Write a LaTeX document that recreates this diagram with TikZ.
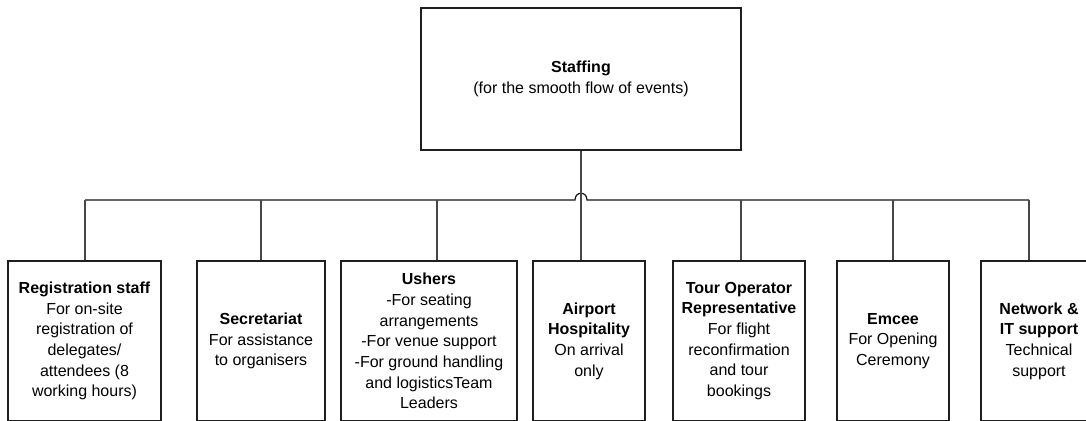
\documentclass[tikz,border=0pt]{standalone}
\usepackage{fontspec}
\setmainfont{Liberation Sans}
\begin{document}
\begin{tikzpicture}[x=1pt,y=-1pt,
  box/.style={draw=black!88, line width=1.5pt, align=center, inner sep=0pt,
    font=\fontsize{16}{20.7}\selectfont, text=black},
  low/.style={box, minimum height=160pt},
  bus/.style={draw=black!92, line width=1.2pt},
  link/.style={draw=black!72, line width=1.1pt}]
\useasboundingbox (0,0) rectangle (1086,420);
\begin{scope}
\clip (0,0) rectangle (1086,420);
\node[box, minimum width=320pt, minimum height=142pt, font=\fontsize{16}{21}\selectfont] (top) at (581,79)
  {\textbf{Staffing}\\(for the smooth flow of events)};
\node[low, minimum width=153pt] (reg) at (84.5,341)
  {\textbf{Registration staff}\\For on-site\\registration of\\delegates/\\attendees (8\\working hours)};
\node[low, minimum width=128pt] (sec) at (261,341)
  {\textbf{Secretariat}\\For assistance\\to organisers};
\node[low, minimum width=176pt] (ush) at (429,341)
  {\textbf{Ushers}\\-For seating\\arrangements\\-For venue support\\-For ground handling\\and logisticsTeam\\Leaders};
\node[low, minimum width=112pt] (air) at (589,341)
  {\textbf{Airport}\\\textbf{Hospitality}\\On arrival\\only};
\node[low, minimum width=132pt] (tour) at (739,341)
  {\textbf{Tour Operator}\\\textbf{Representative}\\For flight\\reconfirmation\\and tour\\bookings};
\node[low, minimum width=112pt] (emc) at (893,341)
  {\textbf{Emcee}\\For Opening\\Ceremony};
\node[low, minimum width=116pt] (net) at (1039,341)
  {\textbf{Network \&}\\\textbf{IT support}\\Technical\\support};
\coordinate (c1) at (85,200);
\coordinate (c2) at (261,200);
\coordinate (c3) at (437,200);
\coordinate (h1) at (575,200);
\coordinate (h2) at (587,200);
\coordinate (c5) at (741,200);
\coordinate (c6) at (893,200);
\coordinate (c7) at (1029,200);
\draw[bus] (c1) -- (h1) .. controls (575,191) and (587,191) .. (h2) -- (c7);
\draw[link] (top.south) -- (top.south |- air.north);
\draw[link] (c1) -- (c1 |- reg.north);
\draw[link] (c2) -- (c2 |- sec.north);
\draw[link] (c3) -- (c3 |- ush.north);
\draw[link] (c5) -- (c5 |- tour.north);
\draw[link] (c6) -- (c6 |- emc.north);
\draw[link] (c7) -- (c7 |- net.north);
\end{scope}
\end{tikzpicture}
\end{document}
